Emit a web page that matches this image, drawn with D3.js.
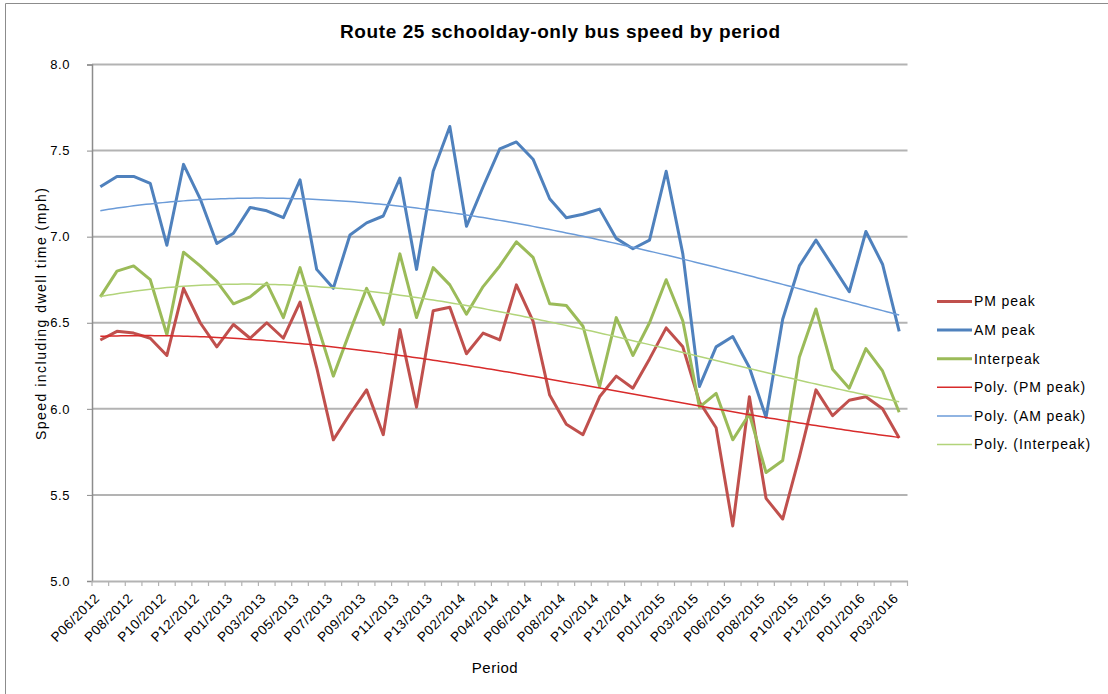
<!DOCTYPE html>
<html><head><meta charset="utf-8">
<script src="https://cdn.jsdelivr.net/npm/d3@7"></script>
<style>body{margin:0;background:#fff;}svg{display:block;font-family:"Liberation Sans",Arial,sans-serif;}</style>
</head><body><svg id="c" width="1108" height="694"></svg>
<script>
const periods = ["P06/2012","P07/2012","P08/2012","P09/2012","P10/2012","P11/2012","P12/2012","P13/2012",
"P01/2013","P02/2013","P03/2013","P04/2013","P05/2013","P06/2013","P07/2013","P08/2013","P09/2013","P10/2013","P11/2013","P12/2013","P13/2013",
"P01/2014","P02/2014","P03/2014","P04/2014","P05/2014","P06/2014","P07/2014","P08/2014","P09/2014","P10/2014","P11/2014","P12/2014","P13/2014",
"P01/2015","P02/2015","P03/2015","P05/2015","P06/2015","P07/2015","P08/2015","P09/2015","P10/2015","P11/2015","P12/2015","P13/2015",
"P01/2016","P02/2016","P03/2016"];
const pmPeak = [6.40,6.45,6.44,6.41,6.31,6.70,6.50,6.36,6.49,6.41,6.50,6.41,6.62,6.24,5.82,5.97,6.11,5.85,6.46,6.01,6.57,6.59,6.32,6.44,6.40,
6.72,6.51,6.08,5.91,5.85,6.07,6.19,6.12,6.29,6.47,6.36,6.04,5.89,5.32,6.07,5.48,5.36,5.72,6.11,5.96,6.05,6.07,6.00,5.83];
const amPeak = [7.29,7.35,7.35,7.31,6.95,7.42,7.22,6.96,7.02,7.17,7.15,7.11,7.33,6.81,6.70,7.01,7.08,7.12,7.34,6.81,7.38,7.64,7.06,7.29,7.51,
7.55,7.45,7.22,7.11,7.13,7.16,6.99,6.93,6.98,7.38,6.90,6.13,6.36,6.42,6.24,5.95,6.52,6.83,6.98,6.83,6.68,7.03,6.84,6.45];
const interpeak = [6.65,6.80,6.83,6.75,6.43,6.91,6.83,6.74,6.61,6.65,6.73,6.53,6.82,6.50,6.19,6.45,6.70,6.49,6.90,6.53,6.82,6.72,6.55,6.71,6.83,
6.97,6.88,6.61,6.60,6.48,6.13,6.53,6.31,6.50,6.75,6.51,6.01,6.09,5.82,5.97,5.63,5.70,6.30,6.58,6.23,6.12,6.35,6.22,5.98];
const yTicks = [5.0,5.5,6.0,6.5,7.0,7.5,8.0];
const seriesNames = ["PM peak","AM peak","Interpeak"];
const seriesColors = ["#C0504D","#4F81BD","#9BBB59"];
const trendColors = ["#D82B2B","#6B9BD8","#B2D47A"];
const trendOrder = 3;

const svg = d3.select("#c");
const L=92, R=907.5, T=64.5, B=581;
const x = d3.scaleBand().domain(periods).range([L,R]);
const y = d3.scaleLinear().domain([5,8]).range([B,T]);
const cx = p => x(p)+x.bandwidth()/2;

// outer border
svg.append("path").attr("d","M5.5,700V3.5H1110").attr("fill","none").attr("stroke","#8c8c8c").attr("stroke-width",1);

// gridlines
svg.append("g").selectAll("line").data(yTicks.filter(v=>v>5)).join("line")
  .attr("x1",L).attr("x2",R).attr("y1",d=>y(d)).attr("y2",d=>y(d))
  .attr("stroke","#b3b3b3").attr("stroke-width",2);

// y axis
const ya = svg.append("g").attr("transform",`translate(${L},0)`)
  .call(d3.axisLeft(y).tickValues(yTicks).tickFormat(d3.format(".1f")).tickSize(5).tickPadding(17));
ya.select(".domain").attr("stroke","#8c8c8c").attr("stroke-width",1.5);
ya.selectAll(".tick line").attr("stroke","#8c8c8c");
ya.selectAll("text").attr("font-size",13).attr("letter-spacing",0.6).attr("fill","#000").attr("font-family","Liberation Sans, Arial");

// x axis
const xa = svg.append("g").attr("transform",`translate(0,${B})`)
  .call(d3.axisBottom(x).tickSize(0).tickFormat((d,i)=> i%2===0? d : ""));
xa.select(".domain").attr("stroke","#b3b3b3").attr("stroke-width",2);
xa.selectAll("text").attr("font-size",13.5).attr("letter-spacing",0.5).attr("fill","#000").attr("font-family","Liberation Sans, Arial")
  .attr("text-anchor","end").attr("dy",null).attr("y",0)
  .attr("transform","translate(0,18) rotate(-45)");
// category boundary tick marks
const bounds = periods.map(p=>x(p)).concat([R]);
svg.append("g").selectAll("line").data(bounds).join("line")
  .attr("x1",d=>d).attr("x2",d=>d).attr("y1",B).attr("y2",B+5)
  .attr("stroke","#b3b3b3").attr("stroke-width",1.2);

// polynomial least-squares trend
function polyFit(vals, order){
  const m=order+1; const A=[];
  for(let r=0;r<m;r++){ A.push(new Array(m+1).fill(0)); }
  vals.forEach((v,i)=>{ const t=i+1;
    for(let r=0;r<m;r++){ for(let c=0;c<m;c++) A[r][c]+=Math.pow(t,r+c); A[r][m]+=v*Math.pow(t,r); } });
  for(let c=0;c<m;c++){ for(let r=c+1;r<m;r++){ const f=A[r][c]/A[c][c]; for(let k=c;k<=m;k++) A[r][k]-=f*A[c][k]; } }
  const co=new Array(m).fill(0);
  for(let r=m-1;r>=0;r--){ let s=A[r][m]; for(let k=r+1;k<m;k++) s-=A[r][k]*co[k]; co[r]=s/A[r][r]; }
  return t=>co.reduce((s,c,k)=>s+c*Math.pow(t,k),0);
}

const allSeries=[pmPeak,amPeak,interpeak];
const line = d3.line().x((d,i)=>cx(periods[i])).y(d=>y(d));
allSeries.forEach((vals,k)=>{
  svg.append("path").datum(vals).attr("d",line).attr("fill","none")
    .attr("stroke",seriesColors[k]).attr("stroke-width",3).attr("stroke-linejoin","round");
});
allSeries.forEach((vals,k)=>{
  const f=polyFit(vals,trendOrder);
  const pts=d3.range(0,periods.length-1+0.001,0.25);
  const tl=d3.line().x(t=>cx(periods[0])+t*x.step()).y(t=>y(f(t+1)));
  svg.append("path").datum(pts).attr("d",tl).attr("fill","none")
    .attr("stroke",trendColors[k]).attr("stroke-width",1.5);
});

// title
svg.append("text").attr("x",560).attr("y",38).attr("text-anchor","middle")
  .attr("font-size",19).attr("font-weight","bold").attr("textLength",440).attr("lengthAdjust","spacing")
  .text("Route 25 schoolday-only bus speed by period");
// axis titles
svg.append("text").attr("transform","translate(46,314) rotate(-90)").attr("text-anchor","middle")
  .attr("font-size",14).attr("textLength",252).attr("lengthAdjust","spacing").text("Speed including dwell time (mph)");
svg.append("text").attr("x",495).attr("y",673).attr("text-anchor","middle")
  .attr("font-size",15).attr("letter-spacing",0.5).text("Period");

// legend
const legItems = seriesNames.map((n,k)=>({name:n,color:seriesColors[k],w:3}))
  .concat(seriesNames.map((n,k)=>({name:`Poly. (${n})`,color:trendColors[k],w:1.5})));
const lg = svg.append("g").selectAll("g").data(legItems).join("g")
  .attr("transform",(d,i)=>`translate(937,${301.5+i*28.6})`);
lg.append("line").attr("x1",0).attr("x2",35).attr("stroke",d=>d.color).attr("stroke-width",d=>d.w);
lg.append("text").attr("x",37).attr("dy","0.35em").attr("font-size",14).attr("letter-spacing",0.9).text(d=>d.name);
</script></body></html>
